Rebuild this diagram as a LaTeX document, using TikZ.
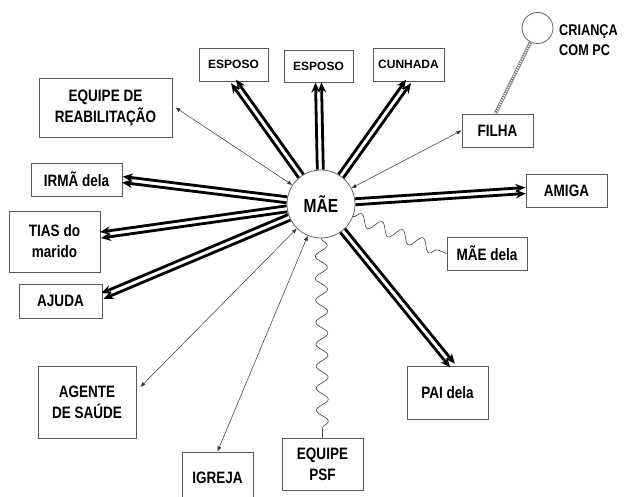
\documentclass[tikz,border=0pt]{standalone}
\usepackage{fontspec}
\setmainfont{Liberation Sans}[FakeStretch=0.82]
\newfontfamily\widesans{Liberation Sans}
\usetikzlibrary{arrows.meta,calc,decorations.pathmorphing,decorations.pathreplacing}

\tikzset{
  box/.style={draw=black!65, line width=0.9pt, inner sep=0pt, align=center,
    font=\fontsize{16.5}{21}\selectfont\bfseries},
  smallbox/.style={box, font=\widesans\fontsize{12}{14}\selectfont\bfseries},
  person/.style={circle, draw=black!60, line width=0.8pt, inner sep=0pt},
  link/.style={line width=0.5pt, draw=black!80,
    {Latex[length=5pt,width=4pt]}-{Latex[length=5pt,width=4pt]}},
  wave/.style={decorate, decoration={snake, amplitude=6pt, segment length=22pt},
    line width=0.6pt, draw=black!75},
  ladder/.style={draw=black!55, line width=3.2pt,
    postaction={draw=white, line width=1.8pt, dash pattern=on 1.2pt off 1.2pt}},
  tieline/.style={line width=2.8pt, -{Stealth[length=10pt,width=8.5pt]}},
  % strong tie: two parallel arrows along the straight path
  tie/.style={decorate, decoration={show path construction, lineto code={
    \draw[tieline] ($(\tikzinputsegmentfirst)!3pt!90:(\tikzinputsegmentlast)$)
                -- ($(\tikzinputsegmentlast)!3pt!-90:(\tikzinputsegmentfirst)$);
    \draw[tieline] ($(\tikzinputsegmentfirst)!3pt!-90:(\tikzinputsegmentlast)$)
                -- ($(\tikzinputsegmentlast)!3pt!90:(\tikzinputsegmentfirst)$);
  }}},
}

\begin{document}
\begin{tikzpicture}[x=1pt, y=-1pt]
\useasboundingbox (0,0) rectangle (626,497);

% central person
\node[person, minimum size=68pt, font=\fontsize{19}{20}\selectfont\bfseries] (mae) at (321,204) {MÃE};

% child and its label
\node[person, minimum size=31pt] (crianca) at (537.5,28) {};
\node[anchor=west, align=left, inner sep=0pt, font=\fontsize{15.5}{20}\selectfont\bfseries] (criancatxt) at (559,40) {CRIANÇA\\COM PC};

% network members
\node[smallbox, minimum width=69pt, minimum height=33pt] (esposoa) at (233.5,64.5) {ESPOSO};
\node[smallbox, minimum width=69pt, minimum height=32pt] (esposob) at (318.5,66) {ESPOSO};
\node[smallbox, minimum width=71pt, minimum height=33pt] (cunhada) at (408.5,64.5) {CUNHADA};
\node[box, minimum width=71pt, minimum height=33pt] (filha) at (497.5,130.5) {FILHA};
\node[box, minimum width=133pt, minimum height=59pt] (reab) at (105.5,107.5) {EQUIPE DE\\REABILITAÇÃO};
\node[box, minimum width=91pt, minimum height=33pt] (irma) at (76.5,179.5) {IRMÃ dela};
\node[box, minimum width=91pt, minimum height=61pt] (tias) at (54.5,241.5) {TIAS do\\marido};
\node[box, minimum width=83pt, minimum height=34pt] (ajuda) at (60.5,301) {AJUDA};
\node[box, minimum width=98pt, minimum height=72pt] (agente) at (87,402) {AGENTE\\DE SAÚDE};
\node[box, minimum width=71pt, minimum height=52pt] (igreja) at (217.5,478) {IGREJA};
\node[box, minimum width=81pt, minimum height=52pt] (psf) at (322.5,464) {EQUIPE\\PSF};
\node[box, minimum width=81pt, minimum height=33pt] (amiga) at (566.5,190.5) {AMIGA};
\node[box, minimum width=80pt, minimum height=33pt] (maedela) at (487,253.5) {MÃE dela};
\node[box, minimum width=81pt, minimum height=53pt] (pai) at (447.5,392.5) {PAI dela};

% strong ties
\path[tie] (mae) -- (esposoa.south);
\path[tie] (mae) -- (esposob.south);
\path[tie] (mae) -- (cunhada.south);
\path[tie] (mae) -- (irma.east);
\path[tie] (mae) -- (tias);
\path[tie] (mae) -- ([yshift=5pt]ajuda.east);
\path[tie] (mae) -- (amiga.west);
\path[tie] (mae) -- ([xshift=5pt]pai.north);

% weak ties
\draw[link] (mae) -- ([xshift=3pt]reab.east);
\draw[link] (mae) -- (filha.west);
\draw[link] (mae) -- ([shift={(4pt,15pt)}]agente.east);
\draw[link] (mae) -- (igreja.north);

% conflictual ties
\draw[wave] (mae) -- (maedela.west);
\draw[wave] (mae) -- (psf.north);

% mother of the child
\draw[ladder] ([xshift=-2pt]filha.north) -- (crianca);
\end{tikzpicture}
\end{document}
